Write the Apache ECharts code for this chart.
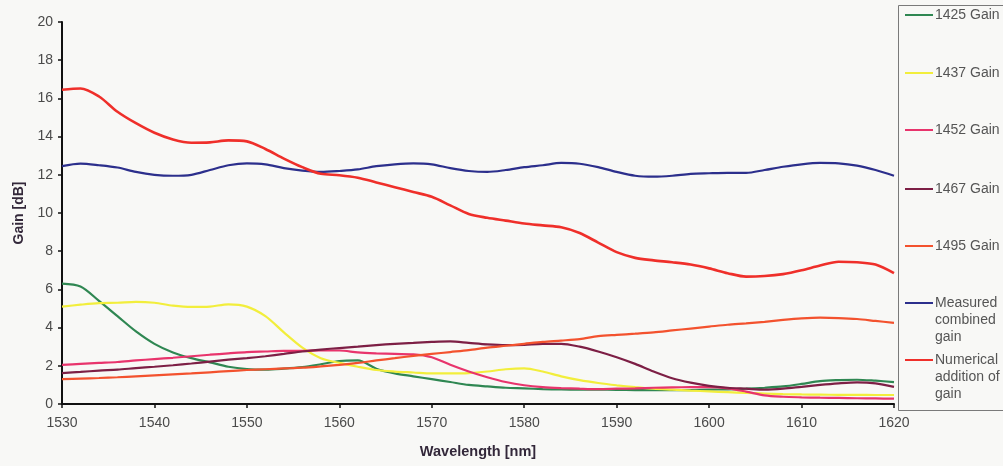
<!DOCTYPE html>
<html>
<head>
<meta charset="utf-8">
<title>Gain vs Wavelength</title>
<script src="https://cdn.jsdelivr.net/npm/echarts@6/dist/echarts.min.js"></script>
<style>
  html, body { margin: 0; padding: 0; background: #f8f8f6; }
  #chart { width: 1003px; height: 466px; }
</style>
</head>
<body>
<div id="chart"></div>
<script>
// Wavelength sampling grid [nm]
const wavelength = [1530,1532,1534,1536,1538,1540,1542,1544,1546,1548,1550,1552,1554,1556,1558,1560,1562,1564,1566,1568,1570,1572,1574,1576,1578,1580,1582,1584,1586,1588,1590,1592,1594,1596,1598,1600,1602,1604,1606,1608,1610,1612,1614,1616,1618,1620];

// Gain of each single pump [dB]
const gain1425 = [6.3,6.15,5.4,4.6,3.8,3.15,2.7,2.4,2.18,1.95,1.83,1.8,1.85,1.93,2.08,2.25,2.28,1.85,1.6,1.45,1.3,1.15,1.0,0.92,0.85,0.82,0.78,0.76,0.75,0.75,0.74,0.73,0.72,0.72,0.73,0.75,0.77,0.8,0.85,0.92,1.05,1.2,1.25,1.27,1.22,1.15];
const gain1437 = [5.1,5.2,5.28,5.3,5.35,5.3,5.15,5.08,5.1,5.22,5.1,4.6,3.75,2.95,2.4,2.15,1.95,1.78,1.7,1.65,1.6,1.6,1.62,1.7,1.82,1.87,1.7,1.45,1.25,1.1,0.98,0.88,0.8,0.75,0.7,0.66,0.62,0.58,0.55,0.52,0.5,0.49,0.48,0.48,0.47,0.47];
const gain1452 = [2.05,2.1,2.15,2.2,2.28,2.35,2.42,2.5,2.58,2.65,2.72,2.75,2.78,2.78,2.8,2.8,2.7,2.65,2.62,2.6,2.45,2.05,1.7,1.4,1.15,0.98,0.88,0.83,0.8,0.78,0.8,0.82,0.85,0.87,0.88,0.88,0.82,0.65,0.45,0.38,0.35,0.33,0.32,0.3,0.29,0.28];
const gain1467 = [1.62,1.68,1.75,1.8,1.88,1.95,2.03,2.12,2.22,2.32,2.4,2.5,2.62,2.75,2.85,2.93,3.0,3.08,3.15,3.2,3.25,3.28,3.2,3.12,3.08,3.1,3.15,3.15,3.0,2.75,2.45,2.1,1.7,1.35,1.12,0.95,0.85,0.8,0.75,0.8,0.9,1.0,1.08,1.13,1.08,0.9];
const gain1495 = [1.3,1.33,1.36,1.4,1.45,1.5,1.55,1.6,1.66,1.72,1.78,1.82,1.86,1.9,1.97,2.05,2.15,2.28,2.4,2.52,2.62,2.72,2.82,2.95,3.05,3.15,3.25,3.32,3.4,3.55,3.62,3.68,3.75,3.85,3.95,4.05,4.15,4.22,4.3,4.4,4.48,4.52,4.5,4.45,4.35,4.25];

// Combined gain: measured vs. sum of single-pump gains [dB]
const measuredCombined = [12.45,12.58,12.5,12.38,12.15,12.0,11.95,12.0,12.25,12.5,12.6,12.55,12.35,12.22,12.15,12.2,12.28,12.45,12.55,12.6,12.55,12.35,12.2,12.15,12.25,12.4,12.5,12.62,12.58,12.4,12.15,11.95,11.9,11.95,12.05,12.08,12.1,12.1,12.25,12.42,12.55,12.62,12.6,12.48,12.25,11.95];
const numericalSum = [16.45,16.52,16.1,15.3,14.7,14.2,13.85,13.68,13.7,13.8,13.75,13.35,12.85,12.4,12.05,11.98,11.85,11.6,11.35,11.1,10.85,10.4,9.95,9.75,9.6,9.45,9.35,9.25,8.95,8.45,7.95,7.65,7.52,7.42,7.3,7.1,6.85,6.67,6.7,6.8,7.0,7.25,7.45,7.42,7.3,6.85];

const seriesNames = ['1425 Gain','1437 Gain','1452 Gain','1467 Gain','1495 Gain','Measured\ncombined\ngain','Numerical\naddition of\ngain'];
const seriesValues = [gain1425, gain1437, gain1452, gain1467, gain1495, measuredCombined, numericalSum];
const seriesColors = ['#2f8752','#f2ee3c','#e8346c','#7d1f45','#f3522e','#2c2f8c','#ef2f2a'];

// Vertical position of each legend entry's line sample
const legendIconY = [15, 73, 130, 189, 246, 303, 360];

const FONT = '"Liberation Sans", Arial, sans-serif';
const LINE_H = 17;

// One legend block per entry; multi-line names are padded with empty
// lines above so the sample line sits level with the first text line.
const legends = seriesNames.map((name, i) => {
  const extra = name.split('\n').length - 1;
  const total = 2 * extra + 1;
  return {
    data: [name],
    orient: 'vertical',
    left: 905,
    top: legendIconY[i] - total * LINE_H / 2,
    padding: 0,
    icon: 'rect',
    itemWidth: 28,
    itemHeight: 2,
    selectedMode: false,
    formatter: (n) => '\n'.repeat(extra) + n,
    textStyle: {
      fontFamily: FONT,
      fontSize: 14,
      color: '#555',
      lineHeight: LINE_H,
      padding: [0, 0, 0, -3]
    }
  };
});

const chart = echarts.init(document.getElementById('chart'), null, { renderer: 'canvas' });
chart.setOption({
  backgroundColor: '#f8f8f6',
  animation: false,
  grid: { left: 62, right: 109, top: 22, bottom: 62 },
  graphic: [{
    type: 'rect',
    shape: { x: 898.5, y: 5.5, width: 130, height: 405 },
    style: { fill: 'none', stroke: '#7a7a7a', lineWidth: 1 },
    z: 0
  }],
  legend: legends,
  xAxis: {
    type: 'value',
    min: 1530, max: 1620, interval: 10,
    name: 'Wavelength [nm]',
    nameLocation: 'middle',
    nameGap: 40,
    nameTextStyle: { fontFamily: FONT, fontSize: 14.5, fontWeight: 'bold', color: '#33283a' },
    axisLine: { lineStyle: { color: '#111', width: 2 } },
    axisTick: { show: true, length: 4, lineStyle: { color: '#111', width: 1.5 } },
    axisLabel: { fontFamily: FONT, fontSize: 14, color: '#4a4a4a', margin: 12, formatter: (v) => String(v) },
    splitLine: { show: false }
  },
  yAxis: {
    type: 'value',
    min: 0, max: 20, interval: 2,
    name: 'Gain [dB]',
    nameLocation: 'middle',
    nameGap: 33,
    nameRotate: 90,
    nameTextStyle: { fontFamily: FONT, fontSize: 14, fontWeight: 'bold', color: '#33283a' },
    axisLine: { show: true, lineStyle: { color: '#111', width: 2 } },
    axisTick: { show: true, length: 4, lineStyle: { color: '#111', width: 1.5 } },
    axisLabel: { fontFamily: FONT, fontSize: 14, color: '#4a4a4a', margin: 9 },
    splitLine: { show: false }
  },
  series: seriesNames.map((name, i) => ({
    name: name,
    type: 'line',
    showSymbol: false,
    symbol: 'none',
    smooth: 0.3,
    color: seriesColors[i],
    lineStyle: { width: i === 6 ? 2.6 : 2.2, color: seriesColors[i] },
    data: wavelength.map((w, k) => [w, seriesValues[i][k]])
  }))
});
</script>
</body>
</html>
